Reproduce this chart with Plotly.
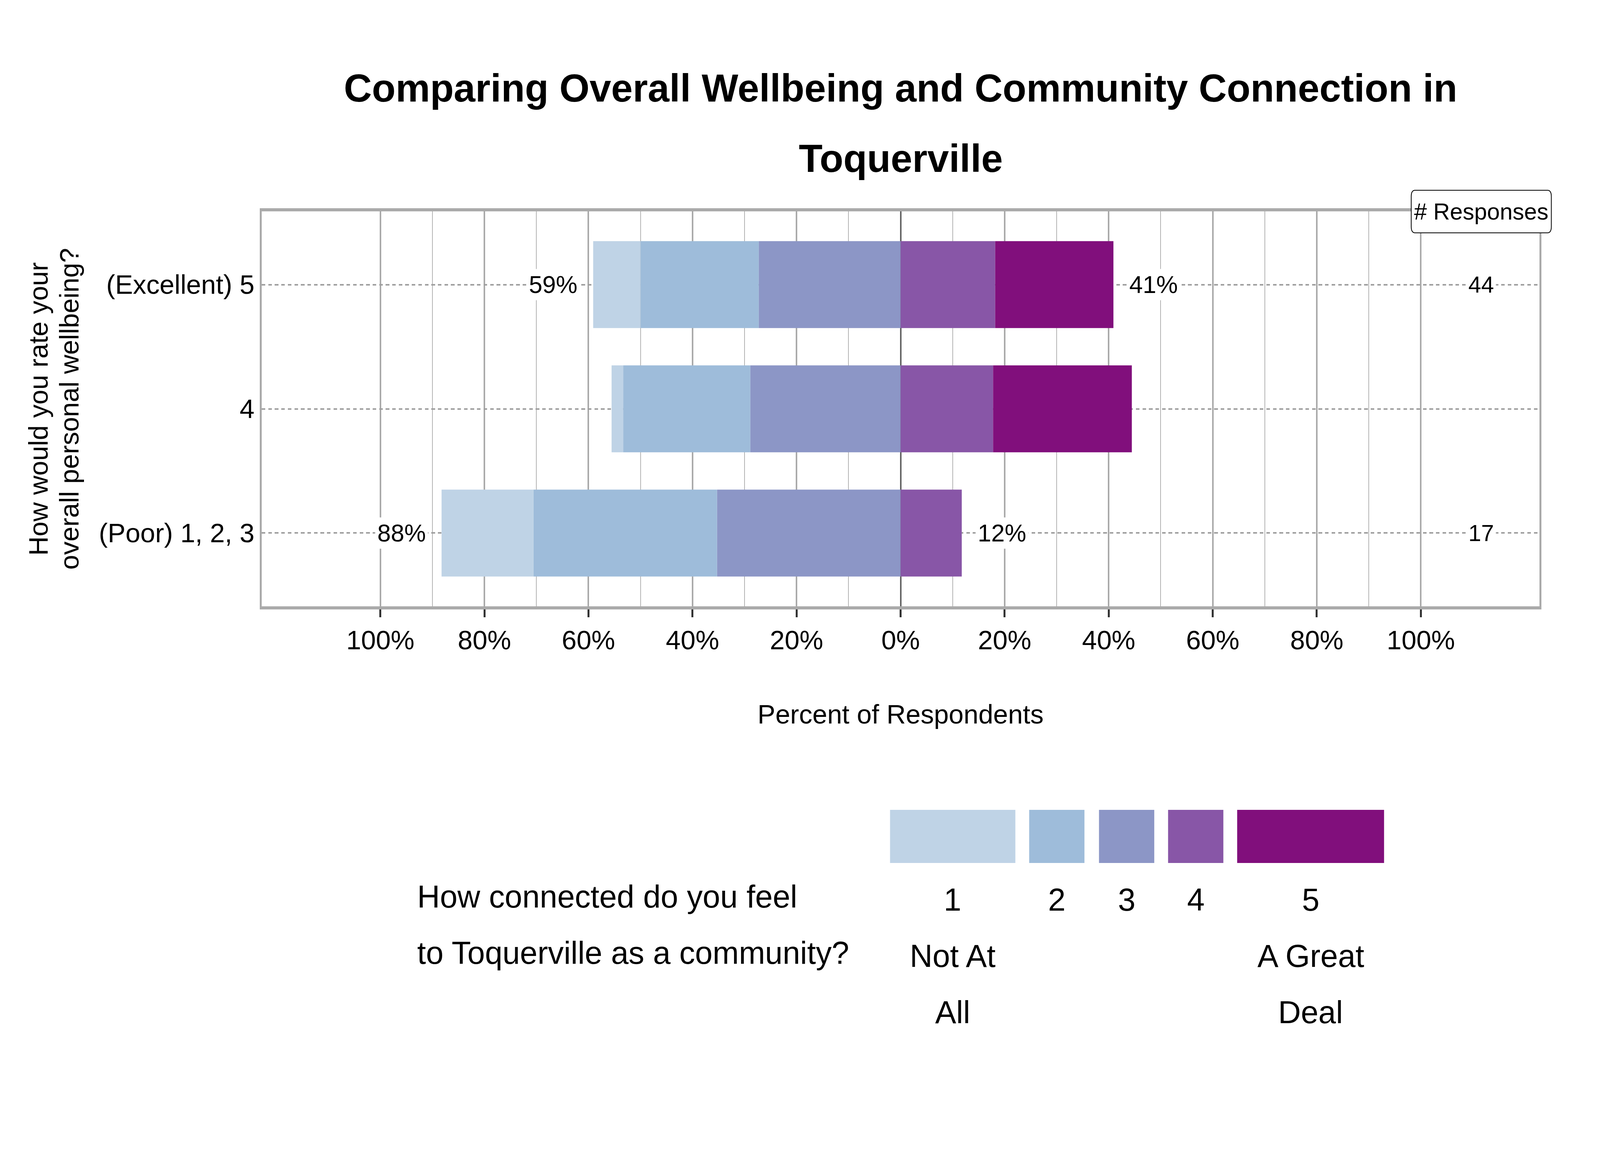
import plotly.graph_objects as go

# rows of the chart (top to bottom)
categories = ["(Excellent) 5", "4", "(Poor) 1, 2, 3"]
responses = [44, 45, 17]

# percent of respondents per connection level
pct_level1 = [9.09, 2.22, 17.65]
pct_level2 = [22.73, 24.44, 35.29]
pct_level3 = [27.27, 28.89, 35.29]
pct_level4 = [18.18, 17.78, 11.76]
pct_level5 = [22.73, 26.67, 0.0]

levels = ["1", "2", "3", "4", "5"]
level_notes = [["Not At", "All"], [], [], [], ["A Great", "Deal"]]
colors = ["#bfd3e6", "#9ebcda", "#8c96c6", "#8856a7", "#810f7c"]

tick_vals = [-100, -80, -60, -40, -20, 0, 20, 40, 60, 80, 100]
tick_text = ["100%", "80%", "60%", "40%", "20%", "0%", "20%", "40%", "60%", "80%", "100%"]
minor_vals = [-90, -70, -50, -30, -10, 10, 30, 50, 70, 90]

title_lines = ["Comparing Overall Wellbeing and Community Connection in", "Toquerville"]

FONT = "Liberation Sans"
# positions measured on the 6600x3000 reference; the browser page is 4096 css px wide
REF_W, REF_H = 6600, 3000
PAGE_W, PAGE_H = 4096, 3000
SX = PAGE_W / REF_W
SY = PAGE_H / REF_H
BODY = 8  # default body margin of the html page
W, H = PAGE_W - 2 * BODY, PAGE_H - 2 * BODY
PL, PR, PT, PB = 1080, 6351, 541, 1552  # plot box in reference pixels


def fx(v):
    return v * SX


def px_x(px):
    return (px - PL) / (PR - PL)


def px_y(py):
    return (PB - py) / (PB - PT)


pcts = [pct_level1, pct_level2, pct_level3, pct_level4, pct_level5]
left_tot = [a + b + c for a, b, c in zip(pct_level1, pct_level2, pct_level3)]
right_tot = [a + b for a, b in zip(pct_level4, pct_level5)]

fig = go.Figure()
# negative side stacks outward from zero: 3, then 2, then 1
for k in [2, 1, 0]:
    fig.add_trace(go.Bar(y=categories, x=[-v for v in pcts[k]], orientation="h",
                         name=levels[k], marker=dict(color=colors[k], line=dict(width=0)),
                         width=0.7, showlegend=False))
for k in [3, 4]:
    fig.add_trace(go.Bar(y=categories, x=pcts[k], orientation="h",
                         name=levels[k], marker=dict(color=colors[k], line=dict(width=0)),
                         width=0.7, showlegend=False))

ann = []
for cat, lt, rt, n in zip(categories, left_tot, right_tot, responses):
    ann.append(dict(x=-lt, y=cat, xref="x", yref="y", text=f"{round(lt)}%", showarrow=False,
                    xanchor="right", xshift=-fx(56), bgcolor="white", borderpad=fx(8),
                    font=dict(family=FONT, size=fx(100), color="black")))
    ann.append(dict(x=rt, y=cat, xref="x", yref="y", text=f"{round(rt)}%", showarrow=False,
                    xanchor="left", xshift=fx(56), bgcolor="white", borderpad=fx(8),
                    font=dict(family=FONT, size=fx(100), color="black")))
    ann.append(dict(x=111.6, y=cat, xref="x", yref="y", text=str(n), showarrow=False,
                    bgcolor="white", borderpad=fx(8),
                    font=dict(family=FONT, size=fx(95), color="black")))

# "# Responses" header sitting on the top frame, in a rounded box
bx0, bx1, by0, by1 = px_x(5822), px_x(6400), px_y(596), px_y(487)
rx, ry = 16 / (PR - PL), 16 / (PB - PT)
box_path = (f"M {bx0 + rx},{by0} L {bx1 - rx},{by0} Q {bx1},{by0} {bx1},{by0 + ry} "
            f"L {bx1},{by1 - ry} Q {bx1},{by1} {bx1 - rx},{by1} L {bx0 + rx},{by1} "
            f"Q {bx0},{by1} {bx0},{by1 - ry} L {bx0},{by0 + ry} Q {bx0},{by0} {bx0 + rx},{by0} Z")
shapes = [dict(type="path", path=box_path, xref="paper", yref="paper", layer="above",
               fillcolor="white", line=dict(color="black", width=2))]
ann.append(dict(x=111.6, y=1, xref="x", yref="paper", text="# Responses", showarrow=False,
                yanchor="middle", font=dict(family=FONT, size=fx(95), color="black")))

# second title line
ann.append(dict(x=0.5, y=px_y(406), xref="paper", yref="paper", text=title_lines[1],
                showarrow=False, xanchor="center", yanchor="middle",
                font=dict(family=FONT, size=fx(160), color="black", weight="bold")))

# y axis title, one annotation per line
for xc, line in [(158, "How would you rate your"), (285, "overall personal wellbeing?")]:
    ann.append(dict(x=px_x(xc), y=0.5, xref="paper", yref="paper", text=line, textangle=-90,
                    showarrow=False, xanchor="center", yanchor="middle",
                    font=dict(family=FONT, size=fx(110), color="black")))

# custom legend: swatches with numbers and notes underneath
swatch_px = [(3672, 4189), (4246, 4474), (4534, 4762), (4819, 5047), (5104, 5710)]
for (x0, x1), col, lev, notes in zip(swatch_px, colors, levels, level_notes):
    shapes.append(dict(type="rect", xref="paper", yref="paper", x0=px_x(x0), x1=px_x(x1),
                       y0=px_y(2209), y1=px_y(2073), fillcolor=col, line=dict(width=0)))
    cx = px_x((x0 + x1) / 2)
    for j, line in enumerate([lev] + notes):
        ann.append(dict(x=cx, y=px_y(2303 + 144 * j), xref="paper", yref="paper", text=line,
                        showarrow=False, xanchor="center", yanchor="middle",
                        font=dict(family=FONT, size=fx(130), color="black")))

for j, line in enumerate(["How connected do you feel", "to Toquerville as a community?"]):
    ann.append(dict(x=px_x(1718), y=px_y(2295 + 144 * j), xref="paper", yref="paper", text=line,
                    showarrow=False, xanchor="left", yanchor="middle",
                    font=dict(family=FONT, size=fx(130), color="black")))

fig.update_layout(
    width=W, height=H,
    margin=dict(l=PL * SX - BODY, r=W - (PR * SX - BODY), t=PT * SY - BODY, b=H - (PB * SY - BODY)),
    barmode="relative",
    plot_bgcolor="white", paper_bgcolor="white",
    font=dict(family=FONT, size=fx(110), color="black"),
    title=dict(text=title_lines[0],
               x=0.5, xref="paper", xanchor="center",
               y=1 - (225 - BODY) / H, yref="container", yanchor="middle",
               font=dict(family=FONT, size=fx(160), color="black", weight="bold")),
    annotations=ann,
    shapes=shapes,
)

fig.update_xaxes(
    range=[-122.8, 122.8],
    tickvals=tick_vals, ticktext=tick_text,
    ticks="outside", ticklen=20 * SY, tickwidth=fx(8), tickcolor="#333333",
    showgrid=True, gridcolor="#aaaaaa", gridwidth=fx(7),
    minor=dict(tickvals=minor_vals, showgrid=True, gridcolor="#b4b4b4", gridwidth=fx(3), ticks=""),
    zeroline=True, zerolinecolor="#666666", zerolinewidth=fx(6),
    showline=True, linecolor="#aaaaaa", linewidth=8 * SY, mirror=True,
    tickfont=dict(family=FONT, size=fx(110)),
    title=dict(text="Percent of Respondents", font=dict(family=FONT, size=fx(110)), standoff=132),
)
fig.update_yaxes(
    type="category", categoryorder="array", categoryarray=categories,
    range=[2.59, -0.59],
    showgrid=True, gridcolor="#a0a0a0", gridwidth=3.5 * SY,
    griddash=f"{fx(15):.1f}px,{fx(12):.1f}px",
    ticks="", showline=True, linecolor="#aaaaaa", linewidth=fx(8), mirror=True,
    tickfont=dict(family=FONT, size=fx(110)),
)

fig.write_html("out.html")
